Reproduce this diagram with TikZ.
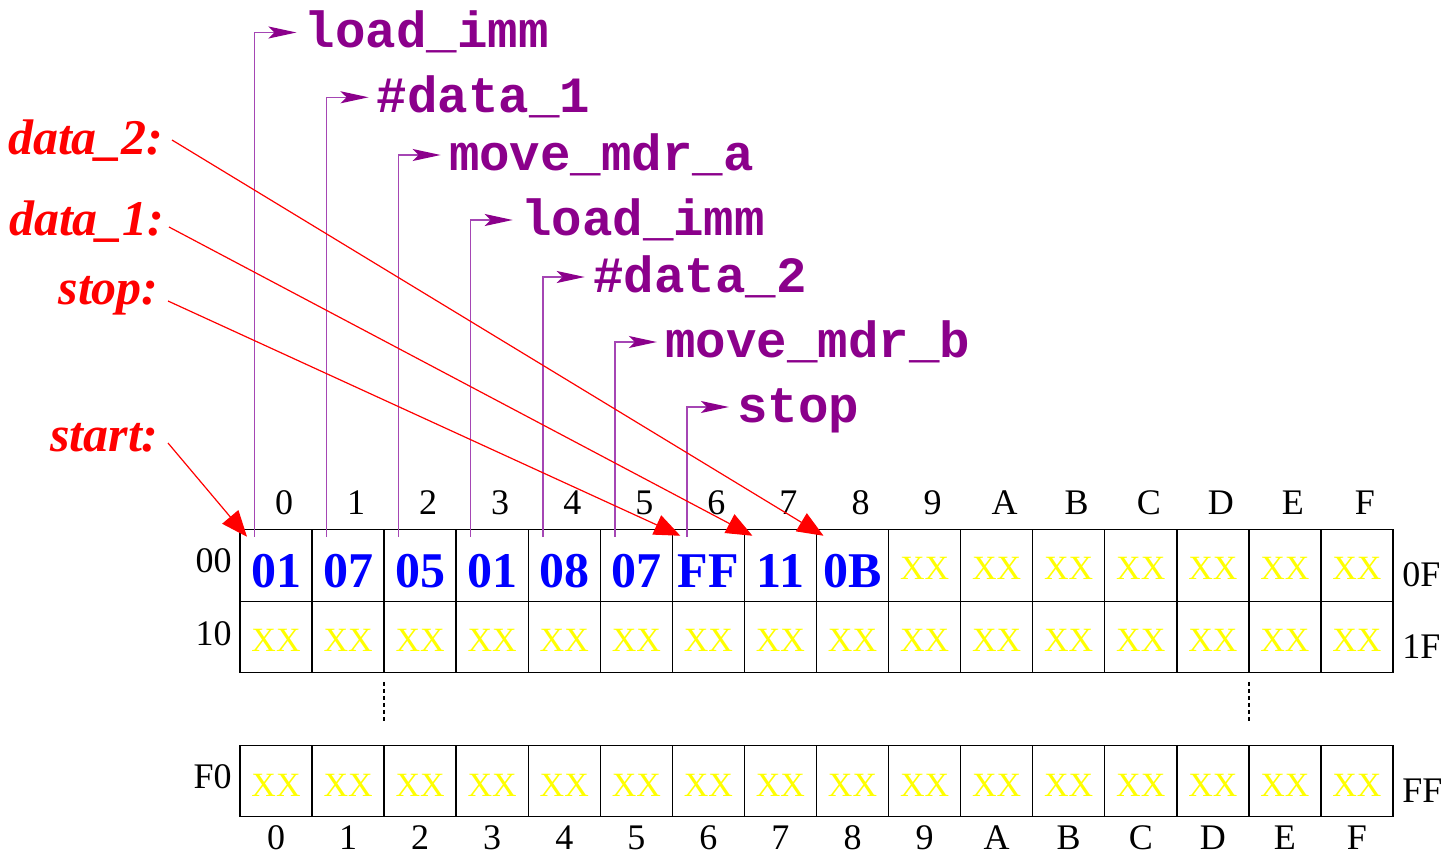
\documentclass[tikz,border=0pt]{standalone}
\usepackage{fontspec}
\setmainfont{Liberation Serif}
\newfontfamily\pmono{Liberation Mono}
\usetikzlibrary{arrows.meta,calc}
\definecolor{plab}{RGB}{139,0,139}
\definecolor{pline}{RGB}{165,70,180}
\definecolor{yel}{RGB}{255,255,0}
\tikzset{
 cell/.style={draw=black, line width=0.7pt, minimum width=36.03pt, minimum height=35.75pt, inner sep=0pt, outer sep=0pt},
 bluev/.style={text=blue, font=\fontsize{25}{25}\selectfont\bfseries, anchor=base, inner sep=0pt},
 xxv/.style={text=yel, font=\fontsize{17}{17}\selectfont, anchor=base, inner sep=0pt},
 axlab/.style={font=\fontsize{18}{18}\selectfont, inner sep=0pt},
 redlab/.style={text=red, font=\fontsize{25}{25}\selectfont\bfseries\itshape, anchor=base east, inner sep=0pt},
 redarr/.style={draw=red, line width=0.6pt, -{Triangle[length=13pt,width=10.5pt]}},
 pinstr/.style={text=plab, font=\fontsize{25.4}{25.4}\selectfont\pmono\bfseries, anchor=base west, inner sep=0pt},
 parr/.style={draw=pline, line width=0.75pt, -{Stealth[length=14pt,width=6pt,inset=3pt,color=plab]}},
 dots/.style={draw=black, line width=1.3pt, dash pattern=on 2pt off 1.5pt},
}
\begin{document}
\begin{tikzpicture}[x=0.5pt,y=-0.5pt]
\useasboundingbox (0,0) rectangle (1444,856);
% memory cells
\foreach \c in {0,...,15} {
  \pgfmathsetmacro\xc{240+72.0625*(\c+0.5)}
  \node[cell] (a\c) at (\xc,565.5) {};
  \node[cell] (b\c) at (\xc,637) {};
  \node[cell] (f\c) at (\xc,781) {};
}
% column labels
\foreach \l [count=\c from 0] in {0,1,2,3,4,5,6,7,8,9,A,B,C,D,E,F} {
  \node[axlab, anchor=base] (th\c) at ($(a\c.north)+(8,-15)$) {\l};
  \node[axlab, anchor=base] (bh\c) at ($(f\c.south)+(0,33)$) {\l};
}
% row labels
\node[axlab, anchor=base east] (r00) at ($(a0.north west)+(-8,43)$) {00};
\node[axlab, anchor=base east] (r10) at ($(b0.north west)+(-8,44)$) {10};
\node[axlab, anchor=base east] (rF0) at ($(f0.north west)+(-8,43)$) {F0};
\node[axlab, anchor=base west] (r0F) at ($(a15.north east)+(9,57)$) {0F};
\node[axlab, anchor=base west] (r1F) at ($(b15.north east)+(9,57)$) {1F};
\node[axlab, anchor=base west] (rFF) at ($(f15.north east)+(9,57)$) {FF};
% values
\foreach \v [count=\c from 0] in {01,07,05,01,08,07,FF,11,0B}
  \node[bluev] (va\c) at ($(a\c.north)+(0,58)$) {\v};
\foreach \c in {9,...,15}
  \node[xxv] (xa\c) at ($(a\c.north)+(0,50)$) {XX};
\foreach \c in {0,...,15} {
  \node[xxv] (xb\c) at ($(b\c.north)+(0,50)$) {XX};
  \node[xxv] (xf\c) at ($(f\c.north)+(0,51)$) {XX};
}
% dotted continuation marks
\draw[dots] ($(b2.south west)+(0,9)$) -- ($(b2.south west)+(0,49)$);
\draw[dots] ($(b14.south west)+(0,9)$) -- ($(b14.south west)+(0,49)$);
% instruction annotations
\foreach \t/\y [count=\i from 0] in {load\_imm/32.5, \#data\_1/97.3, move\_mdr\_a/155, load\_imm/220, \#data\_2/277, move\_mdr\_b/342, stop/407} {
  \coordinate (pb\i) at ($(a\i.north west)+(14.5,7)$);
  \path (pb\i |- 0,\y) ++(42,0) coordinate (pt\i);
  \node[pinstr] (pi\i) at ($(pt\i)+(8,15)$) {\t};
  \draw[parr] (pb\i) |- (pt\i);
}
% labels
\node[redlab] (ld2) at (164,155) {data\_2:};
\node[redlab] (ld1) at (165,235) {data\_1:};
\node[redlab] (lst) at (159,304) {stop:};
\node[redlab] (lsa) at (159,451) {start:};
\coordinate (t8) at ($(a8.north west)+(7,6)$);
\coordinate (t7) at ($(a7.north west)+(8,6)$);
\coordinate (t6) at ($(a6.north west)+(8,6)$);
\coordinate (t0) at ($(a0.north west)+(7,7)$);
\draw[redarr] ($(ld2.base east)+(8,-15)$) -- (t8);
\draw[redarr] ($(ld1.base east)+(4,-8)$) -- (t7);
\draw[redarr] ($(lst.base east)+(9,-3)$) -- (t6);
\draw[redarr] ($(lsa.base east)+(9,-8)$) -- (t0);
\end{tikzpicture}
\end{document}
